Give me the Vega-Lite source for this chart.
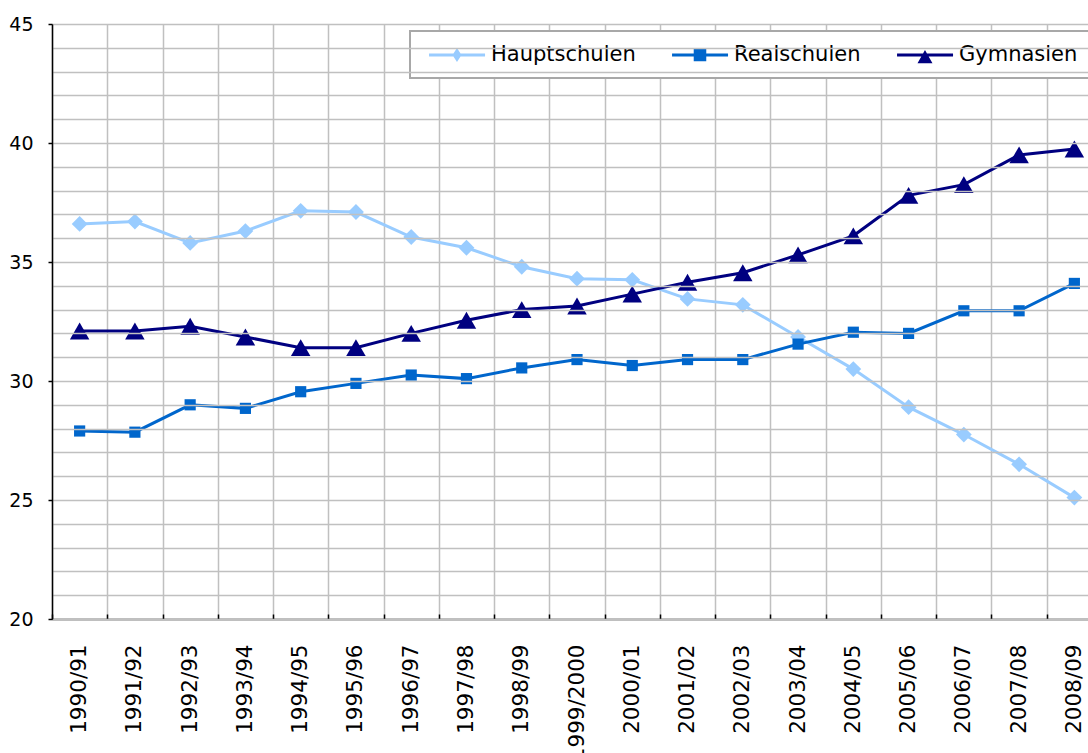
{
  "$schema": "https://vega.github.io/schema/vega-lite/v6.json",
  "width": 1036,
  "height": 595,
  "autosize": {"type": "none"},
  "padding": {"left": 52, "top": 24, "right": 0, "bottom": 134},
  "background": "white",
  "config": {"font": "DejaVu Sans", "view": {"stroke": null}},
  "title": {"text": "Angaben in Prozent", "fontSize": 21, "font": "DejaVu Sans", "fontWeight": "normal", "color": "#606060", "anchor": "middle", "frame": "group", "offset": 14, "baseline": "alphabetic", "dx": 15},
  "data": {"values": [
    {"Jahr": "1990/91", "Schulart": "Hauptschulen", "Anteil": 36.6},
    {"Jahr": "1991/92", "Schulart": "Hauptschulen", "Anteil": 36.7},
    {"Jahr": "1992/93", "Schulart": "Hauptschulen", "Anteil": 35.8},
    {"Jahr": "1993/94", "Schulart": "Hauptschulen", "Anteil": 36.3},
    {"Jahr": "1994/95", "Schulart": "Hauptschulen", "Anteil": 37.15},
    {"Jahr": "1995/96", "Schulart": "Hauptschulen", "Anteil": 37.1},
    {"Jahr": "1996/97", "Schulart": "Hauptschulen", "Anteil": 36.05},
    {"Jahr": "1997/98", "Schulart": "Hauptschulen", "Anteil": 35.6},
    {"Jahr": "1998/99", "Schulart": "Hauptschulen", "Anteil": 34.8},
    {"Jahr": "1999/2000", "Schulart": "Hauptschulen", "Anteil": 34.3},
    {"Jahr": "2000/01", "Schulart": "Hauptschulen", "Anteil": 34.25},
    {"Jahr": "2001/02", "Schulart": "Hauptschulen", "Anteil": 33.45},
    {"Jahr": "2002/03", "Schulart": "Hauptschulen", "Anteil": 33.2},
    {"Jahr": "2003/04", "Schulart": "Hauptschulen", "Anteil": 31.85},
    {"Jahr": "2004/05", "Schulart": "Hauptschulen", "Anteil": 30.5},
    {"Jahr": "2005/06", "Schulart": "Hauptschulen", "Anteil": 28.9},
    {"Jahr": "2006/07", "Schulart": "Hauptschulen", "Anteil": 27.75},
    {"Jahr": "2007/08", "Schulart": "Hauptschulen", "Anteil": 26.5},
    {"Jahr": "2008/09", "Schulart": "Hauptschulen", "Anteil": 25.1},
    {"Jahr": "1990/91", "Schulart": "Realschulen", "Anteil": 27.9},
    {"Jahr": "1991/92", "Schulart": "Realschulen", "Anteil": 27.85},
    {"Jahr": "1992/93", "Schulart": "Realschulen", "Anteil": 29.0},
    {"Jahr": "1993/94", "Schulart": "Realschulen", "Anteil": 28.85},
    {"Jahr": "1994/95", "Schulart": "Realschulen", "Anteil": 29.55},
    {"Jahr": "1995/96", "Schulart": "Realschulen", "Anteil": 29.9},
    {"Jahr": "1996/97", "Schulart": "Realschulen", "Anteil": 30.25},
    {"Jahr": "1997/98", "Schulart": "Realschulen", "Anteil": 30.1},
    {"Jahr": "1998/99", "Schulart": "Realschulen", "Anteil": 30.55},
    {"Jahr": "1999/2000", "Schulart": "Realschulen", "Anteil": 30.9},
    {"Jahr": "2000/01", "Schulart": "Realschulen", "Anteil": 30.65},
    {"Jahr": "2001/02", "Schulart": "Realschulen", "Anteil": 30.9},
    {"Jahr": "2002/03", "Schulart": "Realschulen", "Anteil": 30.9},
    {"Jahr": "2003/04", "Schulart": "Realschulen", "Anteil": 31.55},
    {"Jahr": "2004/05", "Schulart": "Realschulen", "Anteil": 32.05},
    {"Jahr": "2005/06", "Schulart": "Realschulen", "Anteil": 32.0},
    {"Jahr": "2006/07", "Schulart": "Realschulen", "Anteil": 32.95},
    {"Jahr": "2007/08", "Schulart": "Realschulen", "Anteil": 32.95},
    {"Jahr": "2008/09", "Schulart": "Realschulen", "Anteil": 34.1},
    {"Jahr": "1990/91", "Schulart": "Gymnasien", "Anteil": 32.1},
    {"Jahr": "1991/92", "Schulart": "Gymnasien", "Anteil": 32.1},
    {"Jahr": "1992/93", "Schulart": "Gymnasien", "Anteil": 32.3},
    {"Jahr": "1993/94", "Schulart": "Gymnasien", "Anteil": 31.85},
    {"Jahr": "1994/95", "Schulart": "Gymnasien", "Anteil": 31.4},
    {"Jahr": "1995/96", "Schulart": "Gymnasien", "Anteil": 31.4},
    {"Jahr": "1996/97", "Schulart": "Gymnasien", "Anteil": 32.0},
    {"Jahr": "1997/98", "Schulart": "Gymnasien", "Anteil": 32.55},
    {"Jahr": "1998/99", "Schulart": "Gymnasien", "Anteil": 33.0},
    {"Jahr": "1999/2000", "Schulart": "Gymnasien", "Anteil": 33.15},
    {"Jahr": "2000/01", "Schulart": "Gymnasien", "Anteil": 33.65},
    {"Jahr": "2001/02", "Schulart": "Gymnasien", "Anteil": 34.15},
    {"Jahr": "2002/03", "Schulart": "Gymnasien", "Anteil": 34.55},
    {"Jahr": "2003/04", "Schulart": "Gymnasien", "Anteil": 35.3},
    {"Jahr": "2004/05", "Schulart": "Gymnasien", "Anteil": 36.1},
    {"Jahr": "2005/06", "Schulart": "Gymnasien", "Anteil": 37.8},
    {"Jahr": "2006/07", "Schulart": "Gymnasien", "Anteil": 38.25},
    {"Jahr": "2007/08", "Schulart": "Gymnasien", "Anteil": 39.5},
    {"Jahr": "2008/09", "Schulart": "Gymnasien", "Anteil": 39.75}
  ]},
  "encoding": {
    "x": {
      "field": "Jahr", "type": "nominal", "sort": null,
      "scale": {"type": "band", "paddingInner": 0, "paddingOuter": 0, "range": [0, 1050]},
      "axis": {
        "title": null, "tickBand": "extent", "grid": true, "gridColor": "#c0c0c0", "gridWidth": 1.5,
        "domainColor": "black", "domainWidth": 1.5, "ticks": true, "tickColor": "black", "tickSize": -5, "tickWidth": 1.5,
        "labelAngle": 270, "labelAlign": "right", "labelBaseline": "middle", "labelFontSize": 21.5, "labelColor": "black",
        "labelPadding": 30, "labelFont": "DejaVu Sans", "zindex": 0
      }
    },
    "y": {
      "field": "Anteil", "type": "quantitative",
      "scale": {"domain": [20, 45], "nice": false, "zero": false},
      "axis": {
        "title": null, "values": [20,21,22,23,24,25,26,27,28,29,30,31,32,33,34,35,36,37,38,39,40,41,42,43,44,45],
        "labelExpr": "datum.value % 5 === 0 ? datum.label : ''",
        "grid": true, "gridColor": "#c0c0c0", "gridWidth": 1.5,
        "domainColor": "black", "domainWidth": 1.5, "tickColor": "black", "tickSize": 4, "tickWidth": 1.5,
        "tickOpacity": {"condition": {"test": "datum.value % 5 === 0", "value": 1}, "value": 0},
        "labelFontSize": 19, "labelColor": "black", "labelPadding": 15, "labelFont": "DejaVu Sans", "zindex": 1
      }
    },
    "color": {
      "field": "Schulart", "type": "nominal",
      "scale": {"domain": ["Hauptschulen", "Realschulen", "Gymnasien"], "range": ["#99CCFF", "#0066CC", "#000080"]},
      "legend": {
        "orient": "none", "legendX": 358, "legendY": 7, "direction": "horizontal", "title": null,
        "padding": 13, "fillColor": "white", "strokeColor": "#a8a8a8",
        "labelFont": "DejaVu Sans", "labelFontSize": 21, "labelColor": "black", "labelOffset": 46,
        "columnPadding": 30, "symbolSize": 484, "symbolStrokeWidth": 0,
        "encode": {
          "legend": {"update": {"strokeWidth": {"value": 2}}},
          "symbols": {"update": {
            "shape": {"signal": "datum.value === 'Hauptschulen' ? 'M-0.45,-0.136H4.64V0.136H-0.45Z M2.09,-0.64L2.5,0L2.09,0.64L1.68,0Z' : datum.value === 'Realschulen' ? 'M-0.45,-0.136H4.64V0.136H-0.45Z M1.52,-0.57H2.66V0.57H1.52Z' : 'M-0.45,-0.136H4.64V0.136H-0.45Z M2.09,-0.45L2.77,0.75L1.41,0.75Z'"},
            "fill": {"scale": "color", "field": "value"},
            "fillOpacity": {"value": 1},
            "opacity": {"value": 1},
            "strokeWidth": {"value": 0},
            "size": {"value": 484}
          }}
        }
      }
    }
  },
  "layer": [
    {"mark": {"type": "line", "strokeWidth": 3}},
    {
      "transform": [{"filter": "datum.Schulart === 'Hauptschulen'"}],
      "mark": {"type": "point", "filled": true, "opacity": 1, "shape": "diamond", "size": 250}
    },
    {
      "transform": [{"filter": "datum.Schulart === 'Realschulen'"}],
      "mark": {"type": "point", "filled": true, "opacity": 1, "shape": "square", "size": 125}
    },
    {
      "transform": [{"filter": "datum.Schulart === 'Gymnasien'"}],
      "mark": {"type": "point", "filled": true, "opacity": 1, "shape": "triangle-up", "size": 380}
    }
  ]
}
